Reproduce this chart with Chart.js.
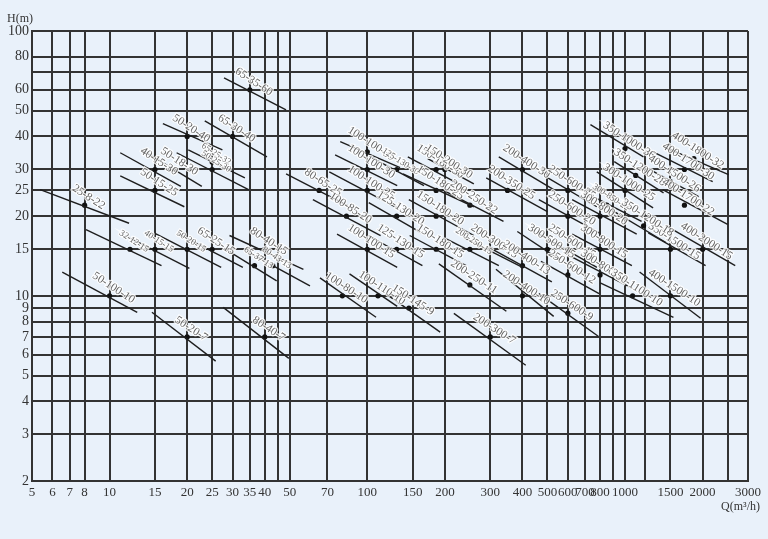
<!DOCTYPE html>
<html lang="zh">
<head>
<meta charset="UTF-8">
<title>Pump selection chart</title>
<script src="https://cdn.jsdelivr.net/npm/chart.js"></script>
<style>
  body { margin: 0; background: #e9f1fa; }
  canvas { display: block; }
</style>
</head>
<body>
<canvas id="chart" width="768" height="539"></canvas>
<script>
// axis ticks (grid lines) and which ones get a label
const xTicks = [5, 6, 7, 8, 10, 15, 20, 25, 30, 35, 40, 45, 50, 70, 100, 150, 200, 300, 400, 500, 600, 700, 800, 900, 1000, 1200, 1500, 2000, 2500, 3000];
const xLabels = [5, 6, 7, 8, 10, 15, 20, 25, 30, 35, 40, 50, 70, 100, 150, 200, 300, 400, 500, 600, 700, 800, 1000, 1500, 2000, 3000];
const yTicks = [2, 3, 4, 5, 6, 7, 8, 9, 10, 15, 20, 25, 30, 40, 50, 60, 70, 80, 100];
const yLabels = [2, 3, 4, 5, 6, 7, 8, 9, 10, 15, 20, 25, 30, 40, 50, 60, 80, 100];

// pump models: rated point (dotQ, dotH) and the ends of each working range
const names = ["65-35-60", "50-20-40", "65-30-40", "65-25-32", "50-18-30", "40-15-30", "50-25-30", "50-15-25", "25-8-22", "32-12-15",
  "40-15-15", "50-20-15", "65-25-15", "65-37-13", "80-40-15", "80-43-13", "50-100-10", "50-20-7", "80-40-7", "80-65-25",
  "100-100-35", "100-100-30", "100-100-25", "125-130-30", "150-180-30", "150-200-30", "150-180-25", "200-250-22", "100-85-20", "125-130-20",
  "150-180-20", "100-100-15", "125-130-15", "150-180-15", "200-250-15", "200-300-15", "200-400-13", "100-110-10", "100-80-10", "150-145-9",
  "200-250-11", "200-400-10", "200-300-7", "200-400-30", "200-350-25", "250-600-25", "250-600-20", "300-800-20", "300-850-22", "250-600-15",
  "300-500-15", "300-800-15", "300-800-12", "250-600-12", "250-600-9", "350-1100-10", "400-1500-10", "400-2000-15", "350-1500-15", "350-1000-36",
  "400-1800-32", "400-1700-30", "350-1200-28", "400-1500-26", "300-1000-25", "400-1700-22", "350-1200-18"];
const dotQ = [35, 20, 30, 25, 18, 15, 25, 15, 8, 12,
  15, 20, 25, 36.5, 40, 43, 10, 20, 40, 65,
  100, 100, 100, 130, 185, 200, 185, 250, 83, 130,
  185, 100, 130, 185, 250, 300, 400, 110, 80, 145,
  250, 400, 300, 400, 350, 600, 600, 800, 850, 600,
  500, 800, 800, 600, 600, 1070, 1500, 2000, 1500, 1000,
  1850, 1700, 1100, 1500, 1000, 1700, 1180];
const dotH = [60, 40, 40, 32, 30, 30, 30, 25, 22, 15,
  15, 15, 15, 13, 15, 13, 10, 7, 7, 25,
  35, 30, 25, 30, 30, 30, 25, 22, 20, 20,
  20, 15, 15, 15, 15, 15, 13, 10, 10, 9,
  11, 10, 7, 30, 25, 25, 20, 20, 22, 15,
  15, 15, 12, 12, 8.6, 10, 10, 15, 15, 36,
  33, 30, 28.5, 27, 25, 22, 18.4];
const q1 = [27.8, 16.1, 23.4, 20.2, 13.3, 11.0, 18.2, 11.0, 5.38, 8.1,
  11.5, 15, 18.3, 27.8, 29.2, 34.6, 6.55, 14.6, 27.6, 48.4,
  78.5, 75, 71.2, 104.4, 143.6, 171.5, 137.6, 195, 61.5, 101.3,
  144.9, 76.3, 100.7, 146, 198, 237.3, 305, 85.3, 65.5, 117.8,
  189.5, 315.6, 216.7, 323.7, 289.3, 486.6, 463, 623.4, 686, 463,
  382, 623.4, 623.4, 471.7, 463, 801, 1139, 1440, 1231, 734,
  1411, 1285, 908, 1231, 777, 1400, 908];
const h1 = [66.5, 44.7, 45.8, 35.6, 35.6, 34.7, 34.7, 28.4, 25.2, 17.8,
  16.9, 17.2, 17.2, 15.1, 16.9, 14.6, 12.3, 8.67, 9.05, 28.9,
  38.2, 34.1, 29.4, 33.2, 33.5, 33, 28.9, 25.2, 23.1, 22.5,
  23.1, 17.1, 16.9, 16.9, 16.6, 16.6, 15, 12.1, 11.7, 10.2,
  13.2, 12.6, 8.59, 33.5, 27.9, 28.4, 23.1, 23.1, 24.8, 17.1,
  17.5, 17.1, 14, 13.5, 10.2, 11.2, 12.3, 18.4, 17.3, 44.3,
  36.6, 35, 32.1, 30.2, 29.4, 25.2, 20.8];
const q2 = [48.4, 27.4, 40.8, 33.5, 22.8, 18.9, 34.6, 19.5, 11.9, 15.9,
  20.4, 27.1, 32.9, 44.5, 56.5, 59.9, 12.8, 25.8, 49.6, 83.9,
  134, 130.6, 130.6, 165.9, 233, 259, 259, 337.6, 112.6, 162.1,
  259, 130.6, 163.6, 241.7, 323.8, 400, 520, 130.6, 108.1, 191.8,
  346.4, 528.6, 411.8, 528.6, 500, 777, 793, 1110, 1159, 778,
  558, 1063, 1081, 793, 787, 1541, 1965, 2676, 2054, 1179,
  2522, 2188, 1411, 1929, 1285, 2500, 1440];
const h2 = [50.4, 35.6, 33.5, 27.9, 25.9, 25.9, 25.2, 21.7, 18.8, 13,
  12.7, 12.8, 12.8, 11.4, 12.6, 10.9, 8.67, 5.67, 5.81, 21.9,
  30.5, 26.1, 21.5, 26.1, 26.1, 26.5, 21.7, 19.1, 16.9, 17.3,
  16.9, 12.8, 13, 13, 13, 12.8, 11.3, 9.13, 8.3, 7.3,
  8.75, 8.37, 5.47, 25.2, 20.8, 21.7, 17.3, 17.1, 19.1, 12.8,
  13.7, 13, 10.6, 10.2, 7.04, 8.3, 8.23, 13, 13, 33.5,
  28.7, 27, 24.5, 23.7, 21.5, 18.6, 15.9];

const smallLabels = ["32-12-15", "40-15-15", "50-20-15", "65-37-13", "80-43-13", "125-130-30", "200-250-15", "300-850-22", "65-25-32", "50-25-30"];

const gridColor = '#333';
const serif = "'Liberation Serif', 'DejaVu Serif', serif";

const datasets = names.map((n, i) => ({
  data: [{ x: q1[i], y: h1[i] }, { x: q2[i], y: h2[i] }],
  showLine: true,
  borderColor: '#1e1e1e',
  borderWidth: 1.4,
  pointRadius: 0
}));
datasets.push({
  data: names.map((n, i) => ({ x: dotQ[i], y: dotH[i] })),
  showLine: false,
  pointRadius: 2.6,
  pointBackgroundColor: '#111',
  pointBorderWidth: 0
});

const labelPlugin = {
  id: 'pumpLabels',
  afterDatasetsDraw(chart) {
    const ctx = chart.ctx, xs = chart.scales.x, ys = chart.scales.y;
    ctx.save();
    names.forEach((n, i) => {
      const px = xs.getPixelForValue(dotQ[i]);
      const py = ys.getPixelForValue(dotH[i]);
      ctx.save();
      ctx.translate(px + 4, py - 8);
      ctx.rotate(33 * Math.PI / 180);
      ctx.font = (smallLabels.includes(n) ? '9px ' : '11.5px ') + serif;
      ctx.textAlign = 'center';
      ctx.textBaseline = 'middle';
      ctx.lineWidth = 2.5;
      ctx.strokeStyle = 'rgba(255,255,255,0.85)';
      ctx.strokeText(n, 0, 0);
      ctx.fillStyle = '#626262';
      ctx.fillText(n, 0, 0);
      ctx.restore();
    });
    // axis titles
    ctx.fillStyle = '#333';
    ctx.font = '12px ' + serif;
    ctx.textBaseline = 'middle';
    ctx.textAlign = 'left';
    ctx.fillText('H(m)', 7, 19);
    ctx.textAlign = 'right';
    ctx.fillText('Q(m³/h)', 760, 507);
    ctx.restore();
  }
};

new Chart(document.getElementById('chart'), {
  type: 'scatter',
  data: { datasets: datasets },
  options: {
    responsive: false,
    animation: false,
    devicePixelRatio: 1,
    layout: { padding: { top: 31, right: 20, bottom: 38, left: 0 } },
    plugins: { legend: { display: false }, tooltip: { enabled: false } },
    scales: {
      x: {
        type: 'logarithmic',
        min: 5,
        max: 3000,
        afterBuildTicks: s => { s.ticks = xTicks.map(v => ({ value: v })); },
        afterFit: s => { s.height = 20; },
        ticks: {
          autoSkip: false,
          maxRotation: 0,
          padding: 4,
          color: '#333',
          font: { family: serif, size: 13 },
          callback: v => xLabels.includes(v) ? String(v) : ''
        },
        grid: { color: gridColor, lineWidth: 2, drawTicks: false },
        border: { color: gridColor, width: 2 }
      },
      y: {
        type: 'logarithmic',
        min: 2,
        max: 100,
        afterBuildTicks: s => { s.ticks = yTicks.map(v => ({ value: v })); },
        afterFit: s => { s.width = 32; },
        ticks: {
          autoSkip: false,
          padding: 3,
          color: '#333',
          font: { family: serif, size: 14 },
          callback: v => yLabels.includes(v) ? String(v) : ''
        },
        grid: { color: gridColor, lineWidth: 2, drawTicks: false },
        border: { color: gridColor, width: 2 }
      }
    }
  },
  plugins: [labelPlugin]
});
</script>
</body>
</html>
